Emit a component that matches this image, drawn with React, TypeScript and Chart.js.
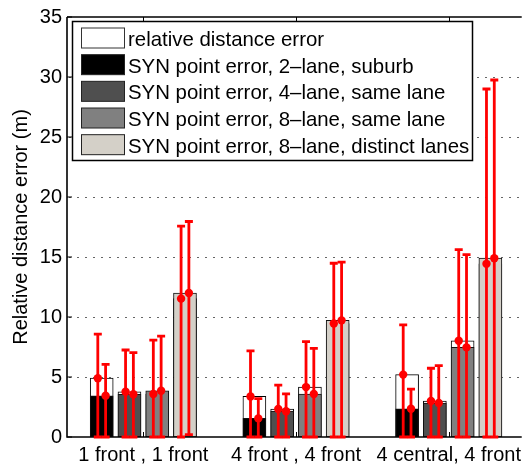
import React, { useEffect, useRef } from 'react';
import { Chart, registerables } from 'chart.js';

Chart.register(...registerables);

// ---------- data ----------
const groupLabels = ['1 front , 1 front', '4 front , 4 front', '4 central, 4 front'];
const yTicks = [0, 5, 10, 15, 20, 25, 30, 35];

const seriesLabels = [
  'relative distance error',
  'SYN point error, 2\u2013lane, suburb',
  'SYN point error, 4\u2013lane, same lane',
  'SYN point error, 8\u2013lane, same lane',
  'SYN point error, 8\u2013lane, distinct lanes',
];

// relative distance error (white bars), per group, one value per SYN scenario slot
const relErrMean = [
  [4.9, 3.77, 3.58, 11.53],
  [3.38, 2.33, 4.16, 9.46],
  [5.2, 3.0, 8.02, 14.43],
];
const relErrUpper = [
  [8.57, 7.25, 8.08, 17.58],
  [7.17, 4.32, 7.94, 14.48],
  [9.35, 5.73, 15.62, 29.0],
];
const relErrLower = [
  [0, 0, 0, 0],
  [0, 0, 0, 0],
  [0, 0, 0, 0],
];

// SYN point error series (one value per group)
const syn2LaneSuburb = [3.44, 1.55, 2.35];
const syn4LaneSame = [3.56, 2.15, 2.83];
const syn8LaneSame = [3.85, 3.58, 7.47];
const syn8LaneDistinct = [12.0, 9.72, 14.9];

const syn2LaneSuburbUpper = [6.06, 3.19, 3.99];
const syn4LaneSameUpper = [7.03, 3.6, 5.95];
const syn8LaneSameUpper = [8.41, 7.39, 15.2];
const syn8LaneDistinctUpper = [17.96, 14.57, 29.75];

const syn2LaneSuburbLower = [0, 0, 0];
const syn4LaneSameLower = [0, 0, 0];
const syn8LaneSameLower = [0, 0, 0];
const syn8LaneDistinctLower = [0.2, 0, 0];

// ---------- styles ----------
const FONT = "'Liberation Sans', Arial, Helvetica, sans-serif";
const seriesColors = ['#ffffff', '#000000', '#4f4f4f', '#808080', '#d4d0c8'];
const slotOffsets = [-0.2727, -0.0909, 0.0909, 0.2727];
const BAR_PX = 23;
const ERR_DX = 3.9;

const synMeans = [syn2LaneSuburb, syn4LaneSame, syn8LaneSame, syn8LaneDistinct];
const synUppers = [syn2LaneSuburbUpper, syn4LaneSameUpper, syn8LaneSameUpper, syn8LaneDistinctUpper];
const synLowers = [syn2LaneSuburbLower, syn4LaneSameLower, syn8LaneSameLower, syn8LaneDistinctLower];

const decorPlugin = {
  id: 'matlabDecor',
  beforeDatasetsDraw(chart: any) {
    const { ctx, chartArea, scales } = chart;
    const y = scales.y;
    ctx.save();
    ctx.strokeStyle = '#666';
    ctx.lineWidth = 1;
    ctx.setLineDash([2, 6]);
    yTicks.forEach((v) => {
      if (v === 0 || v === 35) return;
      const py = Math.round(y.getPixelForValue(v)) + 0.5;
      ctx.beginPath();
      ctx.moveTo(chartArea.left + 2, py);
      ctx.lineTo(chartArea.right, py);
      ctx.stroke();
    });
    ctx.restore();
  },
  afterDatasetsDraw(chart: any) {
    const { ctx, chartArea, scales } = chart;
    const x = scales.x;
    const y = scales.y;
    const { left, right, top, bottom } = chartArea;
    ctx.save();
    ctx.setLineDash([]);
    // axes
    ctx.strokeStyle = '#000';
    ctx.lineWidth = 1.6;
    ctx.beginPath();
    ctx.moveTo(left, top);
    ctx.lineTo(right, top);
    ctx.moveTo(left, top);
    ctx.lineTo(left, bottom);
    ctx.lineTo(right, bottom);
    ctx.stroke();
    ctx.lineWidth = 1;
    ctx.beginPath();
    yTicks.forEach((v) => {
      const py = y.getPixelForValue(v);
      ctx.moveTo(left, py);
      ctx.lineTo(left + 5, py);
    });
    groupLabels.forEach((_, g) => {
      const px = Math.round(x.getPixelForValue(g + 1)) + 0.5;
      ctx.moveTo(px, bottom);
      ctx.lineTo(px, bottom - 5);
      ctx.moveTo(px, top);
      ctx.lineTo(px, top + 5);
    });
    ctx.stroke();

    // error bars
    const drawErr = (px: number, mean: number, lo: number, hi: number) => {
      const pm = y.getPixelForValue(mean);
      const pl = y.getPixelForValue(lo);
      const ph = y.getPixelForValue(hi);
      ctx.strokeStyle = '#ff0000';
      ctx.lineWidth = 2.8;
      ctx.lineCap = 'butt';
      ctx.beginPath();
      ctx.moveTo(px, pl);
      ctx.lineTo(px, ph);
      ctx.moveTo(px - 4, ph);
      ctx.lineTo(px + 4, ph);
      ctx.moveTo(px - 4, pl);
      ctx.lineTo(px + 4, pl);
      ctx.stroke();
      ctx.fillStyle = '#ff0000';
      ctx.beginPath();
      ctx.arc(px, pm, 4.2, 0, Math.PI * 2);
      ctx.fill();
    };
    groupLabels.forEach((_, g) => {
      slotOffsets.forEach((off, s) => {
        const cx = x.getPixelForValue(g + 1 + off);
        drawErr(cx - ERR_DX, relErrMean[g][s], relErrLower[g][s], relErrUpper[g][s]);
        drawErr(cx + ERR_DX, synMeans[s][g], synLowers[s][g], synUppers[s][g]);
      });
    });

    // legend
    const lx = 72.5, ly = 21.5, lw = 400, lh = 139;
    ctx.fillStyle = '#fff';
    ctx.fillRect(lx, ly, lw, lh);
    ctx.strokeStyle = '#000';
    ctx.lineWidth = 1.5;
    ctx.strokeRect(lx, ly, lw, lh);
    ctx.font = `20.4px ${FONT}`;
    ctx.textBaseline = 'alphabetic';
    ctx.textAlign = 'left';
    seriesLabels.forEach((label, i) => {
      const sy = 28 + i * 26.67;
      ctx.fillStyle = seriesColors[i];
      ctx.fillRect(81.5, sy, 43, 20);
      ctx.strokeStyle = i === 0 ? '#333' : '#222';
      ctx.lineWidth = 1;
      ctx.strokeRect(81.5, sy, 43, 20);
      ctx.fillStyle = '#000';
      ctx.fillText(label, 128, sy + 18);
    });
    ctx.restore();
  },
};

export default function App() {
  const canvasRef = useRef<HTMLCanvasElement | null>(null);

  useEffect(() => {
    document.body.style.margin = '0';
    const canvas = canvasRef.current;
    if (!canvas) return;

    const datasets: any[] = [
      {
        label: seriesLabels[0],
        data: relErrMean.flatMap((row, g) => row.map((v, s) => ({ x: g + 1 + slotOffsets[s], y: v }))),
        backgroundColor: seriesColors[0],
        borderColor: '#000',
        borderWidth: 1,
        order: 1,
      },
      ...synMeans.map((vals, s) => ({
        label: seriesLabels[s + 1],
        data: vals.map((v, g) => ({ x: g + 1 + slotOffsets[s], y: v })),
        backgroundColor: seriesColors[s + 1],
        borderColor: '#111',
        borderWidth: 1,
        order: 0,
      })),
    ];

    const font = { family: FONT, size: 20 };

    const chart = new Chart(canvas, {
      type: 'bar',
      data: { datasets },
      plugins: [decorPlugin],
      options: {
        animation: false,
        responsive: false,
        devicePixelRatio: 1,
        datasets: { bar: { grouped: false, barThickness: BAR_PX, borderSkipped: false } } as any,
        layout: { padding: { top: 14, left: 0, right: 0, bottom: 0 } },
        plugins: { legend: { display: false }, tooltip: { enabled: false } },
        scales: {
          x: {
            type: 'linear',
            min: 0.5,
            max: 3.478,
            offset: false,
            grid: { display: false, drawTicks: false, offset: false },
            border: { display: false },
            afterBuildTicks: (s: any) => {
              s.ticks = groupLabels.map((_, i) => ({ value: i + 1 }));
            },
            afterFit: (s: any) => {
              s.height = 31;
            },
            ticks: {
              autoSkip: false,
              maxRotation: 0,
              padding: 6,
              color: '#000',
              font,
              callback: (v: any) => groupLabels[Math.round(Number(v)) - 1] ?? '',
            },
          },
          y: {
            min: 0,
            max: 35,
            grid: { display: false, drawTicks: false },
            border: { display: false },
            afterBuildTicks: (s: any) => {
              s.ticks = yTicks.map((v) => ({ value: v }));
            },
            afterFit: (s: any) => {
              s.width = 67;
            },
            ticks: { padding: 5, color: '#000', font },
            title: {
              display: true,
              text: 'Relative distance error (m)',
              color: '#000',
              font,
              padding: { top: 9, bottom: 0 },
            },
          },
        } as any,
      },
    });

    return () => chart.destroy();
  }, []);

  return (
    <div style={{ width: 527, height: 468 }}>
      <canvas ref={canvasRef} width={527} height={468} style={{ display: 'block' }} />
    </div>
  );
}
